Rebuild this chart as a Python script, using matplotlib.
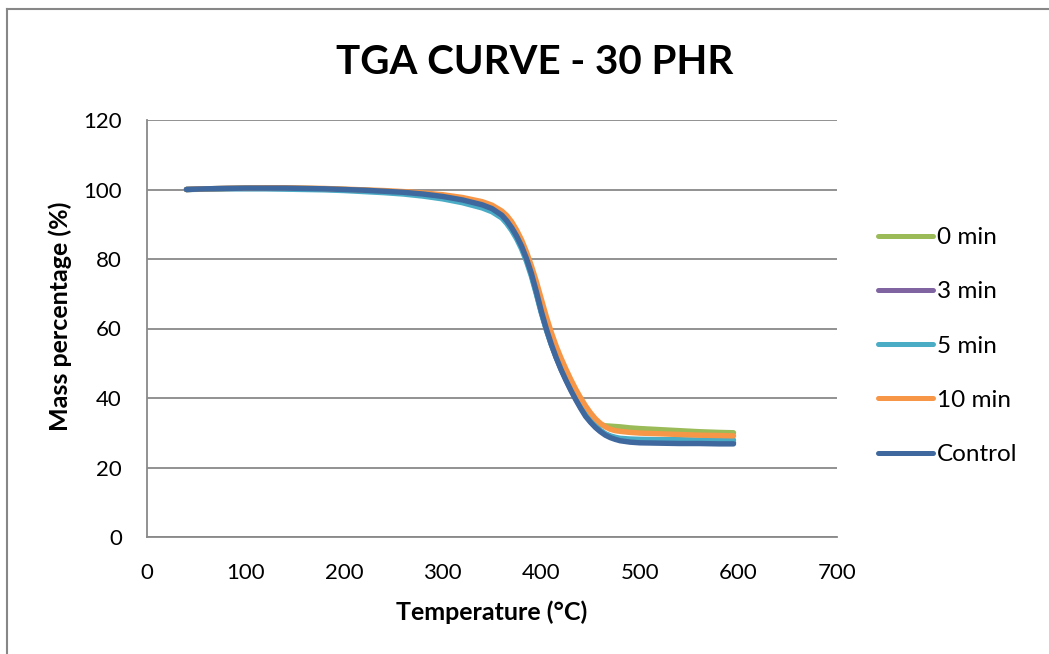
import matplotlib
matplotlib.use("Agg")
import matplotlib.pyplot as plt
from matplotlib.lines import Line2D

plt.rcParams['font.family'] = ['Lato', 'DejaVu Sans']

# Temperature (°C) and mass retained (%) for each cure time
temp = [40, 60, 80, 100, 120, 140, 160, 180, 200, 220, 240, 260, 280, 300,
        320, 340, 350, 360, 365, 370, 375, 380, 385, 390, 395, 400, 405, 410,
        415, 420, 425, 430, 435, 440, 445, 450, 455, 460, 465, 470, 475, 480,
        490, 500, 520, 540, 560, 580, 595]

mass_0min = [100.0, 100.2, 100.3, 100.4, 100.4, 100.4, 100.3, 100.2, 100.0, 99.8,
             99.5, 99.2, 98.7, 98.2, 97.3, 96.0, 95.0, 93.1, 91.7, 89.7, 87.1,
             84.0, 80.3, 76.0, 71.2, 66.1, 61.3, 56.9, 53.1, 49.7, 46.6, 43.7,
             41.0, 38.5, 36.3, 34.5, 33.0, 32.3, 32.0, 31.9, 31.8, 31.7,
             31.4, 31.2, 30.9, 30.6, 30.3, 30.1, 30.0]

mass_3min = [100.0, 100.2, 100.3, 100.3, 100.3, 100.3, 100.2, 100.1, 99.9, 99.7,
             99.4, 99.0, 98.5, 97.8, 96.8, 95.4, 94.2, 92.3, 90.7, 88.7, 86.3,
             83.4, 79.8, 75.5, 70.3, 64.8, 59.9, 55.6, 51.8, 48.4, 45.3, 42.4,
             39.8, 37.3, 35.1, 33.2, 31.7, 30.5, 29.6, 28.9, 28.4, 28.0,
             27.7, 27.5, 27.4, 27.3, 27.3, 27.2, 27.2]

mass_5min = [100.0, 100.1, 100.2, 100.2, 100.2, 100.1, 100.0, 99.9, 99.7, 99.4,
             99.1, 98.7, 98.1, 97.3, 96.2, 94.7, 93.6, 91.8, 90.2, 88.2, 85.8,
             82.9, 79.3, 75.0, 69.9, 64.5, 59.7, 55.5, 51.8, 48.5, 45.5, 42.7,
             40.1, 37.7, 35.5, 33.6, 32.0, 30.7, 29.7, 29.1, 28.7, 28.4,
             28.2, 28.1, 28.0, 28.0, 27.9, 27.9, 27.9]

mass_10min = [100.0, 100.2, 100.3, 100.4, 100.5, 100.5, 100.4, 100.3, 100.1, 99.9,
              99.7, 99.4, 99.0, 98.5, 97.7, 96.5, 95.5, 93.8, 92.5, 90.7, 88.3,
              85.5, 82.0, 78.0, 73.5, 68.5, 63.5, 59.0, 55.0, 51.5, 48.3, 45.3,
              42.5, 40.0, 37.7, 35.7, 34.0, 32.7, 31.7, 31.0, 30.6, 30.4,
              30.1, 29.9, 29.7, 29.5, 29.3, 29.2, 29.1]

mass_control = [100.0, 100.2, 100.3, 100.4, 100.4, 100.4, 100.3, 100.2, 100.0, 99.8,
                99.5, 99.2, 98.7, 98.0, 97.0, 95.6, 94.5, 92.6, 91.0, 89.0, 86.6,
                83.7, 80.1, 75.8, 70.6, 65.0, 60.0, 55.6, 51.7, 48.2, 45.1, 42.2,
                39.5, 37.0, 34.7, 33.0, 31.5, 30.3, 29.3, 28.6, 28.1, 27.7,
                27.3, 27.1, 27.0, 26.9, 26.9, 26.8, 26.8]

series_labels = ['0 min', '3 min', '5 min', '10 min', 'Control']
series_colors = ['#9BBB59', '#8064A2', '#4BACC6', '#F79646', '#3F689E']
series_values = [mass_0min, mass_3min, mass_5min, mass_10min, mass_control]

x_ticks = [0, 100, 200, 300, 400, 500, 600, 700]
y_ticks = [0, 20, 40, 60, 80, 100, 120]

W, H = 1049, 654
fig = plt.figure(figsize=(W / 100, H / 100), dpi=100)
ax = fig.add_axes([147 / W, 1 - 537 / H, 690 / W, 417 / H])

for vals, lab, col in zip(series_values, series_labels, series_colors):
    ax.plot(temp, vals, color=col, lw=3.9, label=lab,
            solid_capstyle='round', solid_joinstyle='round')

grid_col = '#898989'
ax.set_xlim(0, 700)
ax.set_ylim(0, 120)
ax.set_xticks(x_ticks)
ax.set_yticks(y_ticks)
ax.tick_params(axis='both', length=0, labelsize=16, colors='black')
ax.tick_params(axis='y', pad=18)
ax.tick_params(axis='x', pad=19)
ax.yaxis.grid(True, color=grid_col, lw=1.3)
ax.set_axisbelow(True)
for side in ('top', 'right'):
    ax.spines[side].set_visible(False)
for side in ('left', 'bottom'):
    ax.spines[side].set_color(grid_col)
    ax.spines[side].set_linewidth(1.3)

fig.text(535 / W, 1 - 62 / H, 'TGA CURVE - 30 PHR', fontsize=29,
         fontweight='bold', ha='center', va='center')
fig.text(492 / W, 1 - 612 / H, 'Temperature (°C)', fontsize=18,
         fontweight='bold', ha='center', va='center')
fig.text(60 / W, 1 - 316 / H, 'Mass percentage (%)', fontsize=18,
         fontweight='bold', ha='center', va='center', rotation=90)

leg = ax.legend(loc='upper left', bbox_to_anchor=(878 / W, 1 - 227 / H),
                bbox_transform=fig.transFigure, frameon=False, fontsize=17.5,
                handlelength=2.26, handletextpad=0.16, labelspacing=1.37,
                borderaxespad=0, borderpad=0)
for h in leg.get_lines():
    h.set_linewidth(3.6)

# chart-area border (left and top edges)
bc = '#878787'
fig.add_artist(Line2D([7 / W, 7 / W], [0, 1 - 8.5 / H], color=bc, lw=1.5,
                      transform=fig.transFigure))
fig.add_artist(Line2D([7 / W, 1], [1 - 8.5 / H, 1 - 8.5 / H], color=bc, lw=1.5,
                      transform=fig.transFigure))

fig.savefig('out.png', dpi=100)
